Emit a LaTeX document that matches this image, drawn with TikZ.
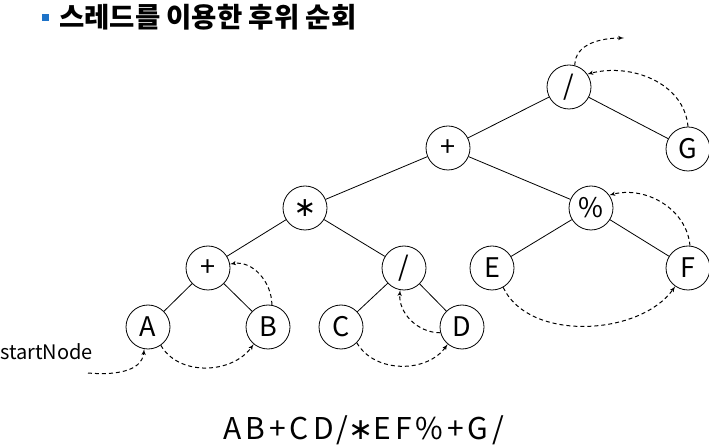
\documentclass[tikz,border=0pt]{standalone}
\usepackage{fontspec}
\setmainfont{Noto Sans CJK KR}
\newfontfamily\symfont{DejaVu Sans}
\usepackage{tikz}
\usetikzlibrary{arrows,positioning}
\definecolor{bulletblue}{RGB}{30,115,200}

\begin{document}
\begin{tikzpicture}[x=1pt, y=1pt,
  vtx/.style={draw, circle, minimum size=44pt, inner sep=0pt,
              font=\fontsize{27}{27}\selectfont, line width=0.8pt},
  edge/.style={line width=0.8pt},
  thr/.style={-latex', line width=1pt, dash pattern=on 4pt off 3pt},
  font=\small
]
\useasboundingbox (0,0) rectangle (709,447);

% ======= Title =======
\fill[bulletblue] (42,426) rectangle (49,433);
\node[anchor=west, inner sep=0pt, font=\fontsize{27.5}{27.5}\selectfont\bfseries] (title) at (59,430) {스레드를 이용한 후위 순회};

% ======= Tree =======
\node[vtx] (root)  at (569,360) {/};
\node[vtx] (G)     at (688,298) {G};
\node[vtx] (plus)  at (448,299) {+};
\node[vtx] (mul)   at (305,239) {\symfont ∗};
\node[vtx] (mod)   at (591,239) {\%};
\node[vtx] (plusL) at (208,179) {+};
\node[vtx] (div)   at (404,179) {/};
\node[vtx] (E)     at (492,179) {E};
\node[vtx] (F)     at (688,179) {F};
\node[vtx] (A)     at (148,120) {A};
\node[vtx] (B)     at (268,120) {B};
\node[vtx] (C)     at (341,120) {C};
\node[vtx] (D)     at (462,120) {D};

\draw[edge] (root) -- (plus);
\draw[edge] (root) -- (G);
\draw[edge] (plus) -- (mul);
\draw[edge] (plus) -- (mod);
\draw[edge] (mul) -- (plusL);
\draw[edge] (mul) -- (div);
\draw[edge] (mod) -- (E);
\draw[edge] (mod) -- (F);
\draw[edge] (plusL) -- (A);
\draw[edge] (plusL) -- (B);
\draw[edge] (div) -- (C);
\draw[edge] (div) -- (D);

% ======= Threads =======
\node[anchor=west, inner sep=0pt, font=\fontsize{20}{20}\selectfont] (startlbl) at (0,95) {startNode};
\coordinate (start) at (88,74);
\coordinate (up) at (624,409);

\draw[thr] (start) to[out=-5, in=-95] (A.-100);
\draw[thr] (A.-55) to[out=-60, in=-125] (B.-130);
\draw[thr] (B.80) to[out=90, in=10] (plusL.10);
\draw[thr] (C.-45) to[out=-60, in=-125] (D.-130);
\draw[thr] (D.195) to[out=180, in=-95] (div.-100);
\draw[thr] (E.-60) to[out=-65, in=-125, looseness=0.9] (F.-125);
\draw[thr] (F.85) to[out=95, in=15] (mod.35);
\draw[thr] (G.90) to[out=95, in=15] (root.35);
\draw[thr] (root.75) to[out=90, in=180] (up);

% ======= Result =======
\node[font=\fontsize{30}{30}\selectfont\addfontfeature{LetterSpace=13}] (result) at (364,17) {AB+CD/{\symfont ∗}EF\%+G/};

\end{tikzpicture}
\end{document}
